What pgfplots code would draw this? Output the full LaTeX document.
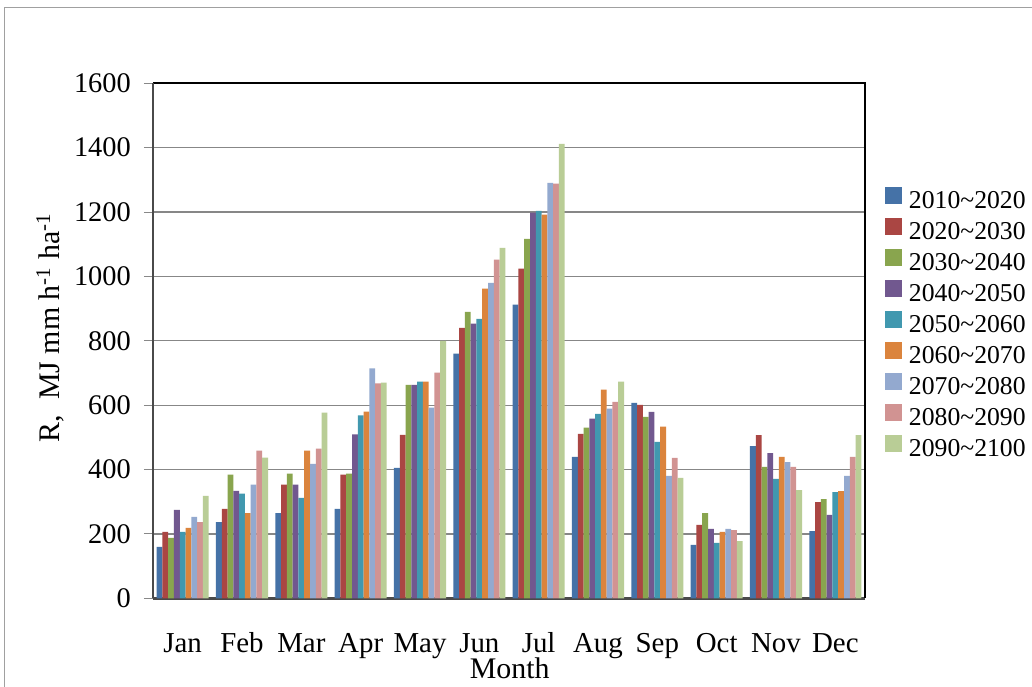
\documentclass[border=0pt]{standalone}
\usepackage{fontspec}
\setmainfont{Liberation Serif}
\usepackage{pgfplots}
\usepackage{pgfplotstable}
\pgfplotsset{compat=1.18}
\definecolor{c1}{HTML}{4572A7}
\definecolor{c2}{HTML}{AA4643}
\definecolor{c3}{HTML}{89A54E}
\definecolor{c4}{HTML}{71588F}
\definecolor{c5}{HTML}{4198AF}
\definecolor{c6}{HTML}{DB843D}
\definecolor{c7}{HTML}{93A9CF}
\definecolor{c8}{HTML}{D19392}
\definecolor{c9}{HTML}{B9CD96}
\definecolor{gridgray}{HTML}{878787}
\definecolor{tickgray}{HTML}{888888}
\definecolor{axgray}{HTML}{4A4A4A}
\definecolor{framegray}{HTML}{A0A0A0}

\pgfplotstableread{
m s1 s2 s3 s4 s5 s6 s7 s8 s9
0 160 206 188 275 206 219 253 237 318
1 237 278 384 334 325 265 353 459 437
2 265 353 387 353 312 459 418 465 577
3 278 384 387 509 568 580 714 668 670
4 405 508 663 663 673 673 592 701 800
5 760 840 890 853 868 962 980 1052 1089
6 912 1024 1117 1198 1204 1192 1291 1288 1412
7 439 511 530 558 573 648 589 610 673
8 607 601 564 579 486 533 380 436 374
9 166 228 265 216 172 206 216 212 178
10 473 507 408 451 371 439 423 408 336
11 209 299 308 259 330 333 380 439 507
}\datatable

\pgfplotsset{
  mybar/.style={fill=#1, draw=none,
    legend image code/.code={\path[fill=#1] (0bp,0.2bp) rectangle (17bp,17.2bp);}},
}

\begin{document}
\begin{tikzpicture}
\useasboundingbox (0,0) rectangle (1032bp,687bp);
\fill[white] (0,0) rectangle (1032bp,687bp);
\draw[framegray, line width=1bp] (4.5bp,-5bp) -- (4.5bp,679bp) -- (1040bp,679bp);
\begin{axis}[
  at={(153bp,88.7bp)}, anchor=south west,
  scale only axis, width=712bp, height=515bp,
  clip=false,
  ybar=0pt, bar width=5.78bp,
  xmin=-0.5, xmax=11.5, ymin=0, ymax=1600,
  xtick={0,...,11},
  xticklabels={Jan,Feb,Mar,Apr,May,Jun,Jul,Aug,Sep,Oct,Nov,Dec},
  ytick={0,200,...,1600},
  ymajorgrids,
  grid style={color=gridgray, line width=1.3bp},
  axis line style={draw=none},
  tick align=outside, major tick length=9bp,
  ytick style={color=tickgray, line width=1bp},
  xtick style={draw=none},
  xtick pos=left, ytick pos=left,
  /pgf/number format/assume math mode=true,
  /pgf/number format/set thousands separator={},
  scaled y ticks=false,
  yticklabel style={font=\fontsize{28.5}{30}\selectfont, anchor=east, inner sep=0pt, xshift=-13bp},
  xticklabel style={font=\fontsize{29}{31}\selectfont, anchor=base, inner sep=0pt, yshift=-45bp},
  legend style={at={(1.028,0.798)}, anchor=north west, draw=none, fill=none,
    inner sep=0pt, outer sep=0pt, row sep=0pt, /tikz/column sep=7bp,
    font=\fontsize{25.8}{27.5}\selectfont,
    nodes={inner sep=0pt, text height=18bp, text depth=9.5bp}},
  legend cell align=left,
]
\draw[axgray, line width=3bp] (rel axis cs:0,0) -- (rel axis cs:1,0);
\addplot[mybar=c1] table[x=m,y=s1]{\datatable};
\addplot[mybar=c2] table[x=m,y=s2]{\datatable};
\addplot[mybar=c3] table[x=m,y=s3]{\datatable};
\addplot[mybar=c4] table[x=m,y=s4]{\datatable};
\addplot[mybar=c5] table[x=m,y=s5]{\datatable};
\addplot[mybar=c6] table[x=m,y=s6]{\datatable};
\addplot[mybar=c7] table[x=m,y=s7]{\datatable};
\addplot[mybar=c8] table[x=m,y=s8]{\datatable};
\addplot[mybar=c9] table[x=m,y=s9]{\datatable};
\legend{2010\textasciitilde 2020,2020\textasciitilde 2030,2030\textasciitilde 2040,2040\textasciitilde 2050,2050\textasciitilde 2060,2060\textasciitilde 2070,2070\textasciitilde 2080,2080\textasciitilde 2090,2090\textasciitilde 2100}
\draw[black, line width=2bp] (rel axis cs:0,1) -- (rel axis cs:1,1) -- (rel axis cs:1,0);
\draw[axgray, line width=2.5bp] (rel axis cs:0,0) -- (rel axis cs:0,1);
\node[anchor=base, font=\fontsize{30}{32}\selectfont] at (rel axis cs:0.501,-0.1553) {Month};
\node[rotate=90, anchor=base, font=\fontsize{30}{32}\selectfont] at (rel axis cs:-0.132,0.525)
  {R,\ \ MJ mm h\textsuperscript{-1} ha\textsuperscript{-1}};
\end{axis}
\end{tikzpicture}
\end{document}
